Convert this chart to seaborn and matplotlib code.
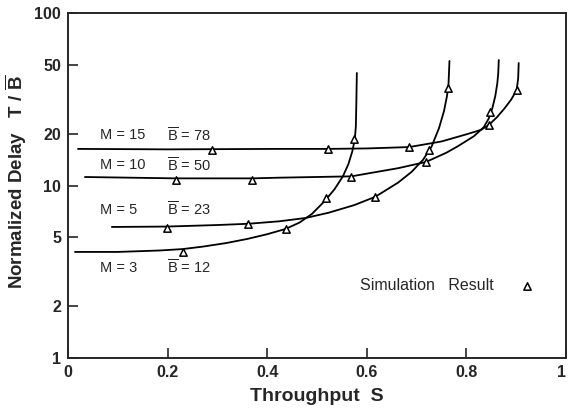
import matplotlib
matplotlib.use("Agg")
import matplotlib.pyplot as plt
import matplotlib.transforms as mtransforms
import seaborn as sns
import pandas as pd

# ---- analytic curves ----
m15_s = [0.020, 0.200, 0.424, 0.522, 0.600, 0.685, 0.750, 0.800, 0.829, 0.845, 0.862, 0.877, 0.890, 0.901, 0.904, 0.905]
m15_t = [16.3, 16.2, 16.3, 16.3, 16.4, 16.7, 18.0, 19.8, 21.0, 22.4, 25.0, 28.1, 31.5, 35.8, 42.0, 51.3]

m10_s = [0.034, 0.216, 0.370, 0.424, 0.569, 0.663, 0.719, 0.760, 0.783, 0.815, 0.835, 0.845, 0.852, 0.858, 0.862, 0.864, 0.865]
m10_t = [11.2, 11.0, 11.0, 11.1, 11.3, 12.6, 13.7, 15.5, 16.9, 19.3, 21.8, 24.5, 28.0, 33.0, 39.0, 45.0, 53.4]

m5_s = [0.088, 0.198, 0.300, 0.362, 0.424, 0.477, 0.523, 0.575, 0.617, 0.663, 0.690, 0.713, 0.730, 0.745, 0.755, 0.761, 0.764, 0.765, 0.766]
m5_t = [5.75, 5.78, 5.90, 6.00, 6.20, 6.48, 6.95, 7.70, 8.60, 10.4, 12.0, 14.1, 16.8, 21.5, 27.0, 33.0, 38.5, 45.0, 52.7]

m3_s = [0.014, 0.100, 0.184, 0.230, 0.270, 0.318, 0.360, 0.400, 0.437, 0.465, 0.490, 0.515, 0.535, 0.552, 0.563, 0.571, 0.576, 0.578, 0.579, 0.580]
m3_t = [4.12, 4.12, 4.20, 4.28, 4.42, 4.64, 4.90, 5.22, 5.60, 6.10, 6.85, 8.10, 9.50, 11.3, 13.3, 15.8, 18.6, 22.0, 30.0, 44.9]

# ---- simulation results (triangles) ----
sim_s = [0.290, 0.522, 0.685, 0.845, 0.901,
         0.216, 0.370, 0.719, 0.847,
         0.198, 0.362, 0.617, 0.725, 0.763,
         0.230, 0.437, 0.519, 0.569, 0.575]
sim_t = [16.1, 16.3, 16.7, 22.4, 35.8,
         10.8, 10.8, 13.7, 26.7,
         5.67, 5.98, 8.6, 16.1, 36.7,
         4.1, 5.6, 8.47, 11.2, 18.6]

curve_names = ["M=15", "M=10", "M=5", "M=3"]
m_labels = ["M = 15", "M = 10", "M = 5", "M = 3"]
b_labels = ["78", "50", "23", "12"]

y_ticks = [1, 2, 5, 10, 20, 50, 100]
y_ticklabels = ["1", "2", "5", "10", "20", "50", "100"]
x_ticks = [0, 0.2, 0.4, 0.6, 0.8, 1.0]
x_ticklabels = ["0", "0.2", "0.4", "0.6", "0.8", "1"]

curves = pd.concat([
    pd.DataFrame({"S": s, "T": t, "curve": n, "order": range(len(s))})
    for s, t, n in zip([m15_s, m10_s, m5_s, m3_s], [m15_t, m10_t, m5_t, m3_t], curve_names)
])
sims = pd.DataFrame({"S": sim_s, "T": sim_t})

sns.set_style("ticks")
plt.rcParams["font.family"] = ["Liberation Sans", "DejaVu Sans"]
plt.rcParams["mathtext.fontset"] = "custom"
plt.rcParams["mathtext.rm"] = "Liberation Sans"
plt.rcParams["mathtext.bf"] = "Liberation Sans:bold"

fig = plt.figure(figsize=(5.69, 4.20), dpi=100)
ax = fig.add_axes([68 / 569, 62 / 420, 498 / 569, 345 / 420])

for name in curve_names:
    sub = curves[curves["curve"] == name]
    sns.lineplot(data=sub, x="S", y="T", sort=False, estimator=None,
                 color="black", lw=1.3, ax=ax, legend=False)

sns.scatterplot(data=sims, x="S", y="T", marker="^", s=28, facecolor="white",
                edgecolor="black", linewidth=1.1, ax=ax, zorder=5, legend=False)

ax.set_yscale("log")
ax.set_xlim(0, 1)
ax.set_ylim(1, 100)
ax.set_yticks(y_ticks)
ax.set_yticklabels(y_ticklabels)
ax.minorticks_off()
ax.set_xticks(x_ticks)
ax.set_xticklabels(x_ticklabels)
ax.tick_params(direction="in", length=7, width=1.2, labelsize=11.5, pad=5)
for lab in ax.get_xticklabels() + ax.get_yticklabels():
    lab.set_fontweight("bold")
# keep the last x tick label ("1") inside the figure
last = ax.get_xticklabels()[-1]
last.set_transform(last.get_transform() +
                   mtransforms.ScaledTranslation(-4 / 100, 0, fig.dpi_scale_trans))
for sp in ax.spines.values():
    sp.set_visible(True)
    sp.set_linewidth(1.4)

ax.set_xlabel("Throughput  S", fontsize=14, fontweight="bold", labelpad=6)
ax.set_ylabel(r"Normalized Delay   T / $\overline{\mathbf{B}}$", fontsize=13.5,
              fontweight="bold")
ax.yaxis.set_label_coords(-0.078, 0.51)

ys = [0.646, 0.559, 0.429, 0.261]
for ml, bl, fy in zip(m_labels, b_labels, ys):
    ax.text(0.064, fy, ml, transform=ax.transAxes, fontsize=10.5,
            va="center", ha="left")
    ax.text(0.198, fy, r"$\overline{\mathrm{B}}$ = " + bl, transform=ax.transAxes,
            fontsize=10.5, va="center", ha="left")

ax.text(0.586, 0.209, "Simulation   Result", transform=ax.transAxes, fontsize=11.5,
        va="center", ha="left")
ax.scatter([0.922], [0.209], marker="^", s=28, facecolor="white", edgecolor="black",
           linewidth=1.1, transform=ax.transAxes, zorder=5)

fig.savefig("out.png", dpi=100)
